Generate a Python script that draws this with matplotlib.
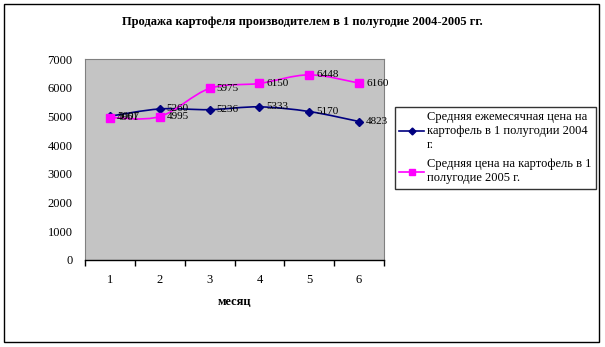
import matplotlib
matplotlib.use("Agg")
import matplotlib.pyplot as plt
from matplotlib.path import Path
from matplotlib.patches import PathPatch, Rectangle
import numpy as np

months = [1, 2, 3, 4, 5, 6]
price_2004 = [5007, 5260, 5236, 5333, 5170, 4823]
price_2005 = [4961, 4995, 5975, 6150, 6448, 6160]
label_2004 = "Средняя ежемесячная цена на\nкартофель в 1 полугодии 2004\nг."
label_2005 = "Средняя цена на картофель в 1\nполугодие 2005 г."
title = "Продажа картофеля производителем в 1 полугодие 2004-2005 гг."
xlabel = "месяц"
yticks = [0, 1000, 2000, 3000, 4000, 5000, 6000, 7000]

plt.rcParams['font.family'] = ['Liberation Serif', 'DejaVu Serif']

fig = plt.figure(figsize=(6.05, 3.47), dpi=100)
W, H = 605, 347
ax = fig.add_axes([85 / W, (H - 260) / H, 299 / W, 201 / H])
ax.set_facecolor('#c4c4c4')


def smooth_path(xs, ys):
    P = np.column_stack([xs, ys]).astype(float)
    n = len(P)
    verts = [P[0]]
    codes = [Path.MOVETO]
    for i in range(n - 1):
        p0 = P[i - 1] if i > 0 else P[i]
        p1 = P[i]
        p2 = P[i + 1]
        p3 = P[i + 2] if i + 2 < n else P[i + 1]
        c1 = p1 + (p2 - p0) / 6.0
        c2 = p2 - (p3 - p1) / 6.0
        verts += [c1, c2, p2]
        codes += [Path.CURVE4] * 3
    return Path(verts, codes)


c04 = '#000080'
c05 = '#ff00ff'
ax.add_patch(PathPatch(smooth_path(months, price_2004), fill=False, edgecolor=c04, lw=1.2, zorder=3))
ax.add_patch(PathPatch(smooth_path(months, price_2005), fill=False, edgecolor=c05, lw=1.2, zorder=3))
ax.plot(months, price_2004, ls='none', marker='D', ms=4.5, color=c04, zorder=4)
ax.plot(months, price_2005, ls='none', marker='s', ms=5.5, color=c05, zorder=4)
# legend proxies
h1, = ax.plot([], [], color=c04, marker='D', ms=3.5, lw=1.2)
h2, = ax.plot([], [], color=c05, marker='s', ms=4, lw=1.2)

for x, y in zip(months, price_2004):
    ax.annotate(str(y), (x, y), xytext=(5, 0), textcoords='offset points',
                ha='left', va='center', fontsize=8, zorder=5)
for x, y in zip(months, price_2005):
    ax.annotate(str(y), (x, y), xytext=(5, 0), textcoords='offset points',
                ha='left', va='center', fontsize=8, zorder=5)

ax.set_xlim(0.5, 6.5)
ax.set_ylim(0, 7000)
ax.set_yticks(yticks)
ax.set_xticks(months)
ax.set_xticks([0.5 + i for i in range(7)], minor=True)
ax.tick_params(axis='x', which='major', length=0, pad=10, labelsize=9)
ax.tick_params(axis='x', which='minor', length=4, direction='out', width=1)
ax.tick_params(axis='y', length=0, pad=9, labelsize=9)
for s in ['top', 'right', 'left']:
    ax.spines[s].set_color('#808080')
    ax.spines[s].set_linewidth(0.8)
ax.spines['bottom'].set_color('black')
ax.spines['bottom'].set_linewidth(1.0)
ax.set_xlabel(xlabel, fontsize=9, fontweight='bold', labelpad=7)

fig.text(0.5, 1 - 22 / H, title, ha='center', va='center', fontsize=9, fontweight='bold')

leg = fig.legend([h1, h2], [label_2004, label_2005], loc='upper left',
                 bbox_to_anchor=(395 / W, 1 - 107 / H), fontsize=9,
                 frameon=True, fancybox=False, edgecolor='black',
                 handlelength=2.0, handletextpad=0.2, borderpad=0.35,
                 labelspacing=0.6, borderaxespad=0)
leg.get_frame().set_linewidth(1.0)

fig.patches.append(Rectangle((4 / W, 5 / H), 595 / W, 338 / H, transform=fig.transFigure,
                             fill=False, edgecolor='black', lw=1.0))

fig.savefig('out.png', dpi=100)
